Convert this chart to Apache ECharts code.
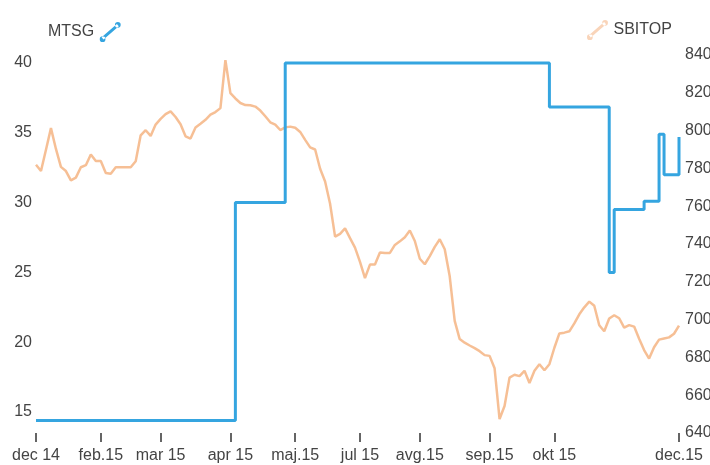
<!DOCTYPE html>
<html><head><meta charset="utf-8">
<script src="https://cdn.jsdelivr.net/npm/echarts@6/dist/echarts.min.js"></script>
<style>html,body{margin:0;padding:0;background:#fff}#c{width:710px;height:465px}</style>
</head><body><div id="c"></div>
<script>
// x-axis tick positions (category index) and their labels
const tickIndex = [0, 13, 25, 39, 52, 65, 77, 91, 104, 129];
const tickLabels = ['dec 14', 'feb.15', 'mar 15', 'apr 15', 'maj.15', 'jul 15', 'avg.15', 'sep.15', 'okt 15', 'dec.15'];

// SBITOP index (right axis)
const sbitop = [
  781.9, 778.6, 789.9, 801.3, 790.3, 780.8, 778.6, 773.7, 775.1, 780.6,
  781.7, 787.4, 783.9, 783.9, 777.6, 777.2, 780.6, 780.6, 780.6, 780.6,
  783.8, 797.5, 800.2, 797.2, 803.2, 806.2, 808.7, 810.2, 807.2, 803.4,
  797.0, 795.8, 801.6, 803.6, 805.7, 808.4, 809.8, 811.9, 837.3, 819.8,
  817.0, 814.6, 813.5, 813.4, 812.7, 810.6, 807.6, 804.4, 803.2, 800.3,
  801.7, 802.1, 801.5, 799.3, 795.1, 791.1, 790.0, 779.8, 773.1, 761.3,
  743.9, 745.4, 748.3, 743.1, 738.1, 730.5, 722.0, 729.1, 729.2, 735.5,
  735.2, 735.3, 739.5, 741.4, 743.6, 747.1, 741.6, 732.2, 729.3, 733.6,
  738.5, 742.5, 737.2, 722.9, 699.3, 689.7, 687.8, 686.3, 684.9, 683.3,
  681.2, 680.8, 674.3, 647.4, 654.3, 669.3, 670.8, 670.1, 672.9, 666.5,
  672.9, 676.4, 673.2, 676.4, 685.1, 692.7, 693.1, 693.8, 698.0, 702.8,
  706.5, 709.5, 707.3, 697.0, 693.8, 700.6, 702.3, 700.7, 695.8, 697.1,
  696.3, 689.9, 683.9, 679.4, 685.4, 689.4, 690.0, 690.6, 692.5, 696.8
];

// MTSG (left axis)
const mtsg = [
  14.4, 14.4, 14.4, 14.4, 14.4, 14.4, 14.4, 14.4, 14.4, 14.4,
  14.4, 14.4, 14.4, 14.4, 14.4, 14.4, 14.4, 14.4, 14.4, 14.4,
  14.4, 14.4, 14.4, 14.4, 14.4, 14.4, 14.4, 14.4, 14.4, 14.4,
  14.4, 14.4, 14.4, 14.4, 14.4, 14.4, 14.4, 14.4, 14.4, 14.4,
  30.0, 30.0, 30.0, 30.0, 30.0, 30.0, 30.0, 30.0, 30.0, 30.0,
  40.0, 40.0, 40.0, 40.0, 40.0, 40.0, 40.0, 40.0, 40.0, 40.0,
  40.0, 40.0, 40.0, 40.0, 40.0, 40.0, 40.0, 40.0, 40.0, 40.0,
  40.0, 40.0, 40.0, 40.0, 40.0, 40.0, 40.0, 40.0, 40.0, 40.0,
  40.0, 40.0, 40.0, 40.0, 40.0, 40.0, 40.0, 40.0, 40.0, 40.0,
  40.0, 40.0, 40.0, 40.0, 40.0, 40.0, 40.0, 40.0, 40.0, 40.0,
  40.0, 40.0, 40.0, 36.85, 36.85, 36.85, 36.85, 36.85, 36.85, 36.85,
  36.85, 36.85, 36.85, 36.85, 36.85, 25.0, 29.5, 29.5, 29.5, 29.5,
  29.5, 29.5, 30.1, 30.1, 30.1, 34.9, 32.0, 32.0, 32.0, 34.7
];

const categories = sbitop.map((_, i) => String(i));

const FONT = "'Liberation Sans', Arial, sans-serif";
const iconPath = 'path://M2,16 L18,2 L20,4.5 L4,18.5 Z M0,18 A3,3 0 1,0 6,18 A3,3 0 1,0 0,18 Z M16,3 A3,3 0 1,0 22,3 A3,3 0 1,0 16,3 Z';

const chart = echarts.init(document.getElementById('c'), null, {renderer: 'canvas'});
chart.setOption({
  animation: false,
  backgroundColor: '#ffffff',
  textStyle: {fontFamily: FONT},
  grid: {left: 36, right: 31, top: 55, bottom: 32, containLabel: false, outerBoundsMode: 'none'},
  legend: [
    {
      data: [{name: 'MTSG', icon: iconPath}],
      left: 43, top: 17, align: 'right', itemWidth: 22, itemHeight: 20, itemGap: 4,
      textStyle: {fontSize: 16, color: '#444', fontFamily: FONT}
    },
    {
      data: [{name: 'SBITOP', icon: iconPath, itemStyle: {opacity: 0.6}}],
      left: 582, top: 15, align: 'left', itemWidth: 22, itemHeight: 20, itemGap: 4,
      textStyle: {fontSize: 16, color: '#444', fontFamily: FONT}
    }
  ],
  xAxis: {
    type: 'category',
    data: categories,
    boundaryGap: false,
    axisLine: {show: false},
    axisTick: {
      show: true,
      alignWithLabel: true,
      interval: (i) => tickIndex.includes(i),
      length: 9,
      lineStyle: {color: '#333', width: 1.5}
    },
    axisLabel: {
      interval: (i) => tickIndex.includes(i),
      formatter: (v, i) => {
        const k = tickIndex.indexOf(i);
        return k >= 0 ? tickLabels[k] : '';
      },
      margin: 15,
      fontSize: 16,
      color: '#444',
      fontFamily: FONT
    },
    splitLine: {show: false}
  },
  yAxis: [
    {
      type: 'value',
      position: 'left',
      min: 13.5,
      max: 40.57,
      splitNumber: 5,
      axisLine: {show: false},
      axisTick: {show: false},
      splitLine: {show: false},
      axisLabel: {
        margin: 4, fontSize: 16, color: '#444', fontFamily: FONT,
        showMinLabel: false, showMaxLabel: false,
        formatter: (v) => (Math.abs(v / 5 - Math.round(v / 5)) < 1e-6 ? String(Math.round(v)) : '')
      }
    },
    {
      type: 'value',
      position: 'right',
      min: 640,
      max: 840,
      interval: 20,
      axisLine: {show: false},
      axisTick: {show: false},
      splitLine: {show: false},
      axisLabel: {margin: 6, fontSize: 16, color: '#444', fontFamily: FONT}
    }
  ],
  series: [
    {
      name: 'SBITOP', type: 'line', yAxisIndex: 1, data: sbitop,
      symbol: 'none', z: 2,
      lineStyle: {color: '#f5b88a', width: 2.5, opacity: 0.9},
      itemStyle: {color: '#f5b88a'}
    },
    {
      name: 'MTSG', type: 'line', yAxisIndex: 0, data: mtsg,
      step: 'end', symbol: 'none', z: 3,
      lineStyle: {color: '#35a5e0', width: 3},
      itemStyle: {color: '#35a5e0'}
    }
  ]
});
</script>
</body></html>
